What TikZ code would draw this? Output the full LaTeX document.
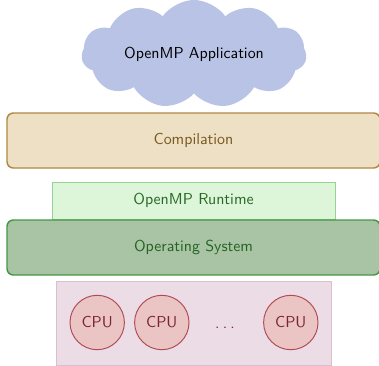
\documentclass[tikz,border=0pt]{standalone}
\usetikzlibrary{shapes.symbols}
\renewcommand{\familydefault}{\sfdefault}
\definecolor{cloudfill}{RGB}{185,195,230}
\definecolor{compfill}{RGB}{238,224,196}
\definecolor{compdraw}{RGB}{176,136,64}
\definecolor{comptext}{RGB}{122,88,32}
\definecolor{rtfill}{RGB}{221,245,216}
\definecolor{rtdraw}{RGB}{150,210,145}
\definecolor{rttext}{RGB}{40,105,40}
\definecolor{osfill}{RGB}{169,196,164}
\definecolor{osdraw}{RGB}{70,150,70}
\definecolor{ostext}{RGB}{35,100,35}
\definecolor{hwfill}{RGB}{235,220,230}
\definecolor{hwdraw}{RGB}{216,192,208}
\definecolor{cpufill}{RGB}{235,196,196}
\definecolor{cpudraw}{RGB}{176,74,85}
\definecolor{cputext}{RGB}{122,37,48}
\tikzset{
  layer/.style={rectangle, inner sep=0pt, font=\sffamily},
  cpunode/.style={circle, inner sep=0pt, minimum size={54.4*0.63pt}, fill=cpufill, draw=cpudraw, line width=0.6pt, text=cputext, font=\sffamily},
}
\begin{document}
\begin{tikzpicture}[x=0.63pt, y=-0.63pt]
\useasboundingbox (0,0) rectangle (379,366);
\node[cloud, cloud puffs=11, cloud puff arc=110, aspect=2.4, fill=cloudfill, inner sep=0pt,
  minimum width={225*0.63pt}, minimum height={92*0.63pt}, font=\sffamily] (app) at (194,54) {OpenMP Application};
\node[layer, rounded corners=4pt, fill=compfill, draw=compdraw, line width=0.9pt, text=comptext,
  minimum width={373*0.63pt}, minimum height={55*0.63pt}] (comp) at (193.5,140.5) {Compilation};
\node[layer, fill=rtfill, draw=rtdraw, line width=0.5pt, text=rttext,
  minimum width={283*0.63pt}, minimum height={36.5*0.63pt}] (rt) at (193.5,200.8) {OpenMP Runtime};
\node[layer, rounded corners=4pt, fill=osfill, draw=osdraw, line width=0.9pt, text=ostext,
  minimum width={373*0.63pt}, minimum height={55*0.63pt}] (os) at (193.5,247.5) {Operating System};
\node[layer, fill=hwfill, draw=hwdraw, line width=0.5pt,
  minimum width={275.5*0.63pt}, minimum height={83.5*0.63pt}] (hw) at (193.8,323.5) {};
\node[cpunode] (cpu1) at (97.2,322.5) {CPU};
\node[cpunode] (cpu2) at (161.8,322.5) {CPU};
\node[cpunode] (cpu3) at (290.8,322.5) {CPU};
\node[text=cputext, font=\sffamily, anchor=base, inner sep=0pt] (dots) at (225,328) {.\hspace{2pt}.\hspace{2pt}.};
\end{tikzpicture}
\end{document}
